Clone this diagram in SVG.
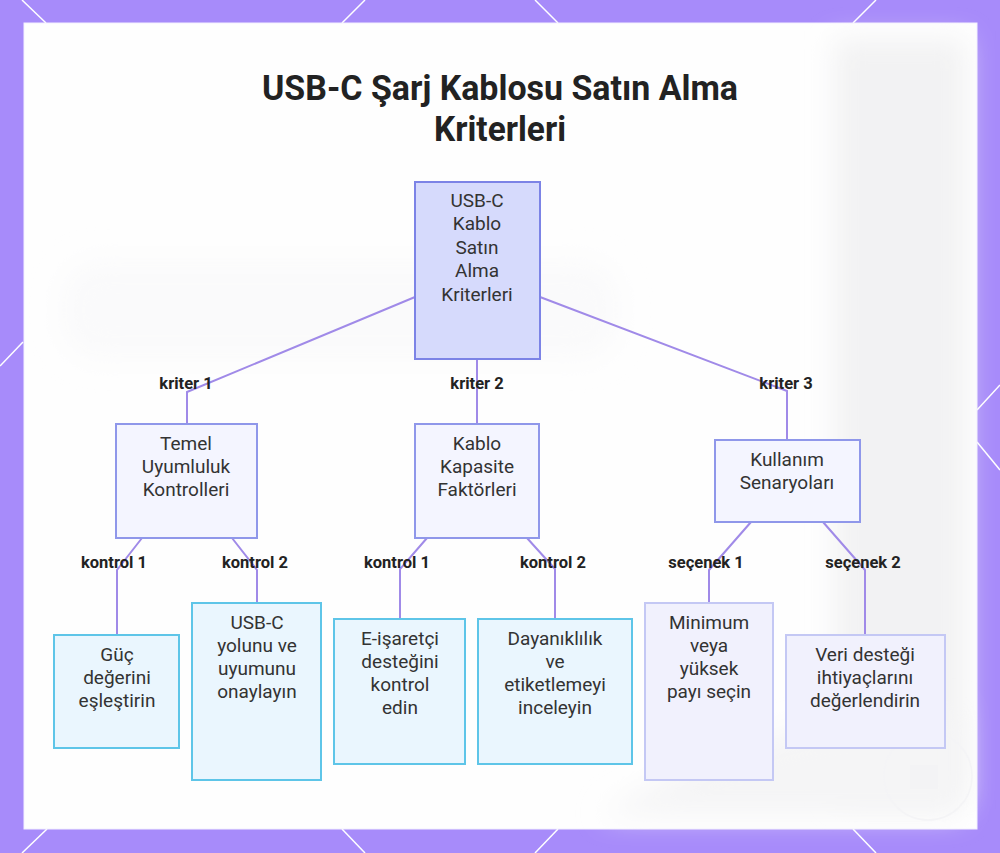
<svg xmlns="http://www.w3.org/2000/svg" width="1000" height="853" viewBox="0 0 1000 853">
<defs>
<style>
.t{font-family:Roboto,"Liberation Sans",sans-serif;font-size:19px;fill:#333;text-anchor:middle;dominant-baseline:central}
.lb{font-family:Roboto,"Liberation Sans",sans-serif;font-size:16.5px;font-weight:bold;fill:#222;text-anchor:middle;dominant-baseline:central}
.title{font-family:Roboto,"Liberation Sans",sans-serif;font-size:35px;font-weight:bold;fill:#222;text-anchor:middle}
.root{fill:#d6dafc;stroke:#7c83e6;stroke-width:2}
.mid{fill:#f4f5ff;stroke:#8f97ea;stroke-width:2}
.cy{fill:#eaf6fe;stroke:#5ec5e8;stroke-width:2}
.lv{fill:#f1f1fd;stroke:#c4c8f4;stroke-width:2}
.c{fill:none;stroke:#a08ae8;stroke-width:2}
.bl{stroke:#fff;stroke-width:1.5}
</style>
<filter id="blur2" x="-50%" y="-50%" width="200%" height="200%"><feGaussianBlur stdDeviation="14"/></filter>
</defs>
<rect width="1000" height="853" fill="#a78bfa"/>
<g class="bl">
<line x1="22" y1="0" x2="46" y2="23"/><line x1="365" y1="0" x2="342" y2="23"/>
<line x1="535" y1="0" x2="558" y2="23"/><line x1="876" y1="0" x2="853" y2="23"/>
<line x1="47" y1="829" x2="22" y2="853"/><line x1="342" y1="829" x2="365" y2="853"/>
<line x1="558" y1="829" x2="535" y2="853"/><line x1="853" y1="829" x2="876" y2="853"/>
<line x1="23" y1="342" x2="0" y2="366"/>
<line x1="1000" y1="385" x2="977" y2="410"/><line x1="977" y1="442" x2="1000" y2="470"/>
</g>
<rect x="24" y="23" width="953" height="806" fill="#fefefe" stroke="#f3f0ff" stroke-width="1"/>
<g id="background">
<rect x="835" y="40" width="130" height="760" fill="#f2f2f3" filter="url(#blur2)"/>
<path d="M600 815 Q720 740 840 720 L960 710 L960 815 Z" fill="#f5f5f6" filter="url(#blur2)"/>
<rect x="60" y="260" width="560" height="100" rx="40" fill="#fafafb" filter="url(#blur2)"/>
<circle cx="928" cy="776" r="44" fill="none" stroke="#f4f4f6" stroke-width="1.5"/>
<rect x="910" y="765" width="28" height="24" fill="#f3f3f5"/>
</g>
<text class="title" x="500" y="100" textLength="476" lengthAdjust="spacingAndGlyphs">USB-C Şarj Kablosu Satın Alma</text>
<text class="title" x="500" y="141" textLength="132" lengthAdjust="spacingAndGlyphs">Kriterleri</text>
<g id="connectors">
<polyline class="c" points="415,297 187,392 187,424"/>
<line class="c" x1="477" y1="359" x2="477" y2="424"/>
<polyline class="c" points="540,297 787,391 787,440"/>
<polyline class="c" points="142,538 117,570 117,635"/>
<polyline class="c" points="232,538 257,570 257,603"/>
<polyline class="c" points="427,538 400,569 400,619"/>
<polyline class="c" points="527,538 555,569 555,619"/>
<polyline class="c" points="751,522 709,570 709,603"/>
<polyline class="c" points="823,522 865,570 865,635"/>
<text class="lb" x="186" y="383">kriter 1</text>
<text class="lb" x="477" y="383">kriter 2</text>
<text class="lb" x="786" y="383">kriter 3</text>
<text class="lb" x="114" y="562">kontrol 1</text>
<text class="lb" x="255" y="562">kontrol 2</text>
<text class="lb" x="397" y="562">kontrol 1</text>
<text class="lb" x="553" y="562">kontrol 2</text>
<text class="lb" x="706" y="562">seçenek 1</text>
<text class="lb" x="863" y="562">seçenek 2</text>
</g>
<g id="root">
<rect class="root" x="415" y="182" width="125" height="177"/>
<text class="t" x="477" y="200">USB-C</text><text class="t" x="477" y="223">Kablo</text><text class="t" x="477" y="247">Satın</text><text class="t" x="477" y="270">Alma</text><text class="t" x="477" y="294">Kriterleri</text>
</g>
<g id="temel">
<rect class="mid" x="116" y="424" width="141" height="114"/>
<text class="t" x="186" y="443">Temel</text><text class="t" x="186" y="466">Uyumluluk</text><text class="t" x="186" y="489">Kontrolleri</text>
</g>
<g id="kapasite">
<rect class="mid" x="415" y="424" width="124" height="114"/>
<text class="t" x="477" y="443">Kablo</text><text class="t" x="477" y="466">Kapasite</text><text class="t" x="477" y="489">Faktörleri</text>
</g>
<g id="senaryo">
<rect class="mid" x="715" y="440" width="145" height="82"/>
<text class="t" x="787" y="459">Kullanım</text><text class="t" x="787" y="482">Senaryoları</text>
</g>
<g id="guc">
<rect class="cy" x="54" y="635" width="125" height="113"/>
<text class="t" x="117" y="654">Güç</text><text class="t" x="117" y="677">değerini</text><text class="t" x="117" y="700">eşleştirin</text>
</g>
<g id="yol">
<rect class="cy" x="192" y="603" width="129" height="177"/>
<text class="t" x="257" y="622">USB-C</text><text class="t" x="257" y="645">yolunu ve</text><text class="t" x="257" y="668">uyumunu</text><text class="t" x="257" y="691">onaylayın</text>
</g>
<g id="emarker">
<rect class="cy" x="334" y="619" width="131" height="145"/>
<text class="t" x="400" y="638">E-işaretçi</text><text class="t" x="400" y="661">desteğini</text><text class="t" x="400" y="684">kontrol</text><text class="t" x="400" y="707">edin</text>
</g>
<g id="dayanik">
<rect class="cy" x="478" y="619" width="154" height="145"/>
<text class="t" x="555" y="638">Dayanıklılık</text><text class="t" x="555" y="661">ve</text><text class="t" x="555" y="684">etiketlemeyi</text><text class="t" x="555" y="707">inceleyin</text>
</g>
<g id="minimum">
<rect class="lv" x="645" y="603" width="128" height="177"/>
<text class="t" x="709" y="622">Minimum</text><text class="t" x="709" y="645">veya</text><text class="t" x="709" y="668">yüksek</text><text class="t" x="709" y="691">payı seçin</text>
</g>
<g id="veri">
<rect class="lv" x="786" y="635" width="159" height="113"/>
<text class="t" x="865" y="654">Veri desteği</text><text class="t" x="865" y="677">ihtiyaçlarını</text><text class="t" x="865" y="700">değerlendirin</text>
</g>
</svg>
